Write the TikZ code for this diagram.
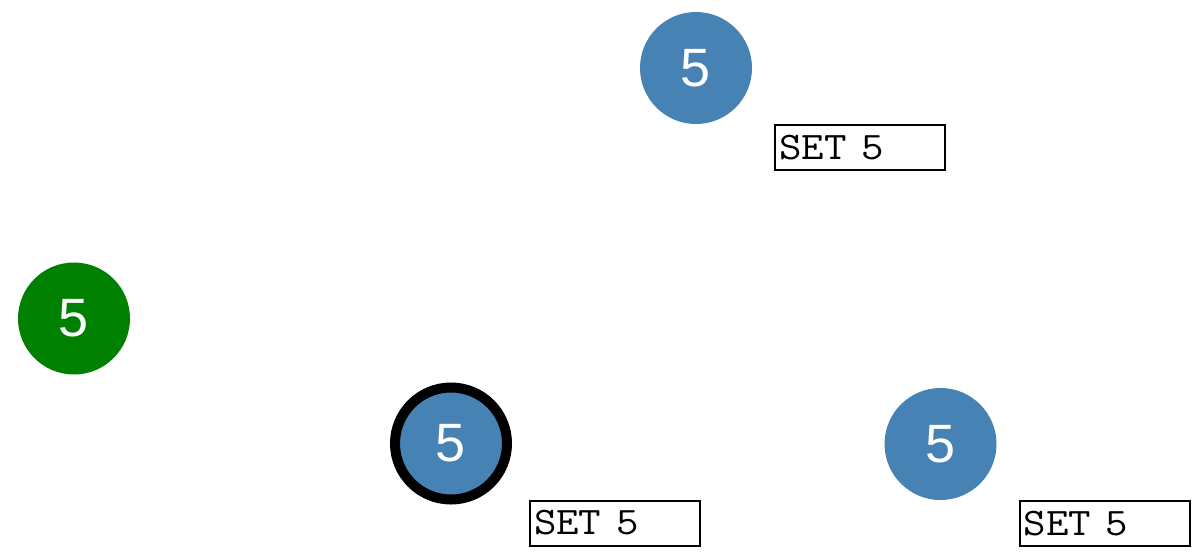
\documentclass[tikz,border=0pt]{standalone}
\usepackage{fontspec}
\setmainfont{Liberation Sans}
\definecolor{steel}{RGB}{70,130,180}
\definecolor{leaf}{RGB}{0,128,0}

\begin{document}
\begin{tikzpicture}[x=1pt, y=-1pt,
    ball/.style={circle, minimum size=112pt, inner sep=0pt, fill=steel, text=white,
        font=\fontsize{54}{54}\selectfont},
    plain/.style={},
    picked/.style={draw=black, line width=10pt},
    setbox/.style={draw, line width=2pt, anchor=north west, minimum width=170pt,
        minimum height=45pt, text width=162pt, inner xsep=4pt, align=left,
        font=\ttfamily\fontsize{39}{39}\selectfont}]
    \useasboundingbox (0,0) rectangle (1202,552);
    % the leader, nothing sent from it
    \node[ball, fill=leaf] (leader) at (74,318.5) {5};
    % followers, each with the value it was told
    \def\followers{top/696/68/plain, low/451/443.5/picked, right/940.5/444/plain}
    \foreach \n/\x/\y/\s in \followers {
        \node[ball, \s] (\n) at (\x,\y) {5};
        \node[setbox] (\n set) at (\x+78,\y+56) {\scalebox{1.12}[1]{SET 5}};
    }
\end{tikzpicture}
\end{document}
